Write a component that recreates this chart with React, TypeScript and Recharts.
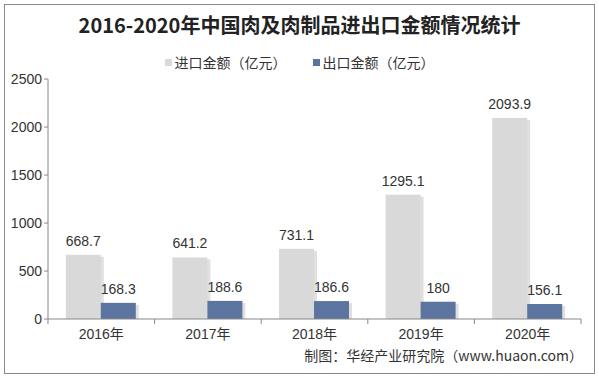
import React from 'react';
import { BarChart, Bar, XAxis, YAxis, LabelList } from 'recharts';

const categories = ['2016年', '2017年', '2018年', '2019年', '2020年'];
const importValues = [668.7, 641.2, 731.1, 1295.1, 2093.9];
const exportValues = [168.3, 188.6, 186.6, 180, 156.1];
const yTicks = [0, 500, 1000, 1500, 2000, 2500];
const seriesNames = ['进口金额（亿元）', '出口金额（亿元）'];
const title = '2016-2020年中国肉及肉制品进出口金额情况统计';
const footer = '制图：华经产业研究院（www.huaon.com）';

const data = categories.map((c, i) => ({ name: c, imp: importValues[i], exp: exportValues[i] }));

const IMPORT_COLOR = '#D9D9D9';
const EXPORT_COLOR = '#5B75A0';
const FONT = 'Arial, "Liberation Sans", "Noto Sans CJK SC", sans-serif';

const ShadowBar = (props: any) => {
  const { x, y, width, height, fill } = props;
  if (height <= 0) return null;
  return (
    <g>
      <rect x={x + 3} y={y + 2} width={width} height={height - 2} fill="#000" opacity={0.12} />
      <rect x={x} y={y} width={width} height={height} fill={fill} />
    </g>
  );
};

const XTick = (props: any) => {
  const { x, y, payload, index } = props;
  const half = (581 - 48) / categories.length / 2;
  return (
    <g>
      <line x1={x - half} y1={y - 8} x2={x - half} y2={y - 3} stroke="#888" />
      {index === categories.length - 1 && (
        <line x1={x + half} y1={y - 8} x2={x + half} y2={y - 3} stroke="#888" />
      )}
      <text x={x} y={y + 12} textAnchor="middle" fontSize={14} fill="#333" fontFamily={FONT}>
        {payload.value}
      </text>
    </g>
  );
};

export default function App() {
  return (
    <div style={{ position: 'absolute', left: 0, top: 0, width: 599, height: 378, background: '#fff' }}>
      <div style={{ position: 'absolute', left: 4, top: 4, width: 589, height: 368, border: '1px solid #888' }} />
      <div style={{ position: 'absolute', left: 0, top: 10, width: 599, textAlign: 'center', fontSize: 20, fontWeight: 'bold', color: '#222', fontFamily: '"Noto Sans CJK SC", sans-serif' }}>
        {title}
      </div>
      <div style={{ position: 'absolute', left: 0, top: 52, width: 599, display: 'flex', justifyContent: 'center', fontSize: 14, color: '#333', fontFamily: '"Noto Sans CJK SC", sans-serif' }}>
        <div style={{ display: 'flex' }}>
          {seriesNames.map((n, i) => (
            <div key={n} style={{ display: 'flex', alignItems: 'center', marginRight: i === 0 ? 26 : 0 }}>
              <span style={{ display: 'inline-block', width: 7, height: 7, background: i === 0 ? IMPORT_COLOR : EXPORT_COLOR, marginRight: 3 }} />
              <span>{n}</span>
            </div>
          ))}
        </div>
      </div>
      <div style={{ position: 'absolute', top: 0, left: 0 }}>
        <BarChart width={599} height={378} data={data} margin={{ top: 79, right: 18, left: 0, bottom: 29 }} barGap={0} barCategoryGap="16.7%">
          <XAxis dataKey="name" axisLine={{ stroke: '#888' }} tickLine={false} tick={<XTick />} height={30} interval={0} />
          <YAxis domain={[0, 2500]} ticks={yTicks} width={48} axisLine={{ stroke: '#888' }} tickLine={{ stroke: '#888' }} tickSize={4} tick={{ fontSize: 14, fill: '#333', fontFamily: FONT }} />
          <Bar dataKey="imp" name={seriesNames[0]} fill={IMPORT_COLOR} isAnimationActive={false} shape={<ShadowBar />}>
            <LabelList dataKey="imp" position="top" offset={9} style={{ fontSize: 14, fill: '#333', fontFamily: FONT }} />
          </Bar>
          <Bar dataKey="exp" name={seriesNames[1]} fill={EXPORT_COLOR} isAnimationActive={false} shape={<ShadowBar />}>
            <LabelList dataKey="exp" position="top" offset={9} style={{ fontSize: 14, fill: '#333', fontFamily: FONT }} />
          </Bar>
        </BarChart>
      </div>
      <div style={{ position: 'absolute', right: 16, top: 345, fontSize: 14, color: '#333', fontFamily: '"Noto Sans CJK SC", sans-serif' }}>
        {footer}
      </div>
    </div>
  );
}
